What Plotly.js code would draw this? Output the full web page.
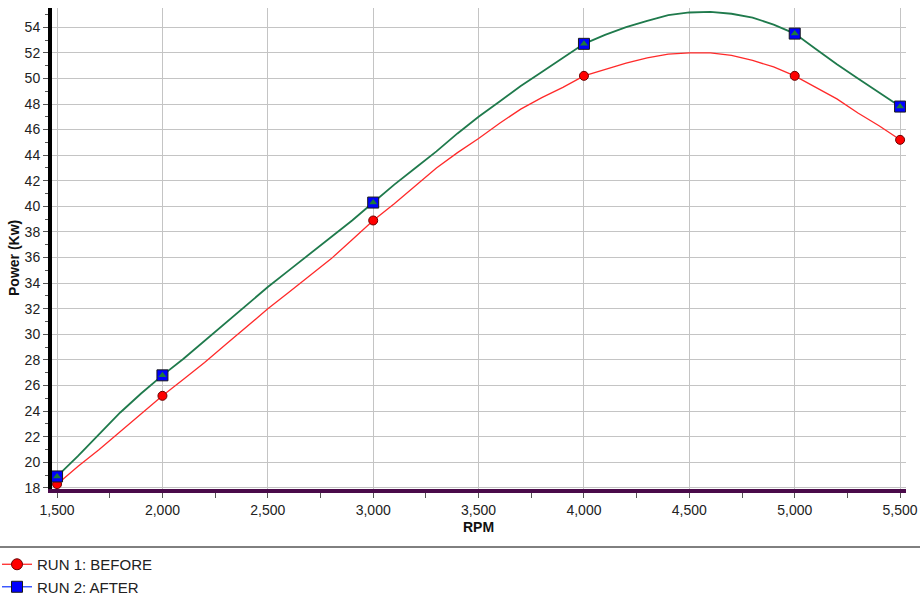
<!DOCTYPE html>
<html>
<head>
<meta charset="utf-8">
<script src="https://cdn.plot.ly/plotly-3.0.1.min.js"></script>
<style>html,body{margin:0;padding:0;background:#fff;}#chart{width:920px;height:596px;}</style>
</head>
<body>
<div id="chart"></div>
<script>
// Dense curve samples (RPM every 100)
const rpm = [1500,1600,1700,1800,1900,2000,2100,2200,2300,2400,2500,2600,2700,2800,2900,3000,3100,3200,3300,3400,3500,3600,3700,3800,3900,4000,4100,4200,4300,4400,4500,4600,4700,4800,4900,5000,5100,5200,5300,5400,5500];
const run1Power = [18.3,19.7,21.0,22.4,23.8,25.2,26.5,27.8,29.2,30.6,32.0,33.3,34.6,35.9,37.4,38.9,40.2,41.6,43.0,44.2,45.3,46.5,47.6,48.5,49.3,50.2,50.7,51.2,51.6,51.9,52.0,52.0,51.8,51.4,50.9,50.2,49.3,48.4,47.3,46.3,45.2];
const run2Power = [18.9,20.5,22.2,23.9,25.4,26.8,28.1,29.5,30.9,32.3,33.7,35.0,36.3,37.6,38.9,40.3,41.7,43.0,44.3,45.7,47.0,48.2,49.4,50.5,51.6,52.7,53.4,54.0,54.5,54.95,55.15,55.2,55.05,54.75,54.2,53.5,52.3,51.1,50.0,48.9,47.8];
// Marker points
const markerRpm = [1500,2000,3000,4000,5000,5500];
const run1Markers = [18.3,25.2,38.9,50.2,50.2,45.2];
const run2Markers = [18.9,26.8,40.3,52.7,53.5,47.8];
const seriesNames = ['RUN 1: BEFORE','RUN 2: AFTER'];
const xTitle = 'RPM';
const yTitle = 'Power (Kw)';
const xTicks = [1500,2000,2500,3000,3500,4000,4500,5000,5500];
const xTickText = ['1,500','2,000','2,500','3,000','3,500','4,000','4,500','5,000','5,500'];

const redLine = '#ff2a2a';
const greenLine = '#1f7a4c';

const traces = [
  {x: rpm, y: run1Power, mode: 'lines', line: {color: redLine, width: 1.3}, showlegend: false, hoverinfo: 'skip'},
  {x: rpm, y: run2Power, mode: 'lines', line: {color: greenLine, width: 1.8}, showlegend: false, hoverinfo: 'skip'},
  {x: markerRpm, y: run1Markers, mode: 'markers', showlegend: false,
   marker: {symbol: 'circle', size: 9, color: '#ff0000', line: {color: '#6a0000', width: 1}}},
  {x: markerRpm, y: run2Markers, mode: 'markers', showlegend: false,
   marker: {symbol: 'square', size: 11, color: '#0000ff', line: {color: '#1a1a1a', width: 1}}},
  {x: markerRpm, y: run2Markers, mode: 'markers', showlegend: false,
   marker: {symbol: 'triangle-up', size: 7, color: '#1f7a3a', line: {width: 0}}},
  {x: [null], y: [null], name: seriesNames[0], mode: 'lines+markers', showlegend: true,
   line: {color: redLine, width: 1.3},
   marker: {symbol: 'circle', size: 11, color: '#ff0000', line: {color: '#6a0000', width: 1}}},
  {x: [null], y: [null], name: seriesNames[1], mode: 'lines+markers', showlegend: true,
   line: {color: '#2040ff', width: 1.3},
   marker: {symbol: 'square', size: 11, color: '#0000ff', line: {color: '#1a1a1a', width: 1}}}
];

const layout = {
  width: 920, height: 596,
  margin: {l: 52, r: 14, t: 8, b: 107, autoexpand: false},
  paper_bgcolor: '#ffffff', plot_bgcolor: '#ffffff',
  font: {family: 'Liberation Sans, Arial, sans-serif', size: 13, color: '#222'},
  showlegend: true,
  legend: {xref: 'container', yref: 'container', x: 0, xanchor: 'left', y: 0.0805, yanchor: 'top', orientation: 'v',
    font: {size: 15, color: '#222'}, bgcolor: 'rgba(0,0,0,0)', tracegroupgap: 0, itemwidth: 30, indentation: -3},
  xaxis: {
    range: [1476, 5528], tickvals: xTicks, ticktext: xTickText, automargin: false,
    showgrid: true, gridcolor: '#c4c4c4', gridwidth: 1,
    showline: true, linecolor: '#4a0a4a', linewidth: 4,
    ticks: '', zeroline: false, ticklabelstandoff: 5,
    minor: {dtick: 250, tick0: 1500, ticks: 'outside', ticklen: 5, tickcolor: '#555', showgrid: false},
    tickfont: {size: 14, color: '#222'}
  },
  yaxis: {
    range: [17.92, 55.5], dtick: 2, tick0: 18, automargin: false,
    showgrid: true, gridcolor: '#c4c4c4', gridwidth: 1,
    showline: true, linecolor: '#000', linewidth: 4,
    ticks: 'outside', ticklen: 5, tickcolor: '#555', zeroline: false,
    minor: {dtick: 1, ticks: 'outside', ticklen: 3, tickcolor: '#555', showgrid: false},
    tickfont: {size: 14, color: '#222'}
  },
  annotations: [
    {text: '<b>' + xTitle + '</b>', xref: 'paper', yref: 'paper', x: (478-52)/854, y: (489-527)/481,
     xanchor: 'center', yanchor: 'middle', showarrow: false, font: {size: 14, color: '#111'}},
    {text: '<b>' + yTitle + '</b>', xref: 'paper', yref: 'paper', x: (14-52)/854, y: (489-258)/481,
     xanchor: 'center', yanchor: 'middle', textangle: -90, showarrow: false, font: {size: 14, color: '#111'}}
  ],
  shapes: [
    {type: 'line', xref: 'paper', yref: 'paper', x0: -52/854, x1: 868/854, y0: -0.1206, y1: -0.1206,
     line: {color: '#000', width: 1}}
  ]
};

Plotly.newPlot('chart', traces, layout, {displayModeBar: false, staticPlot: true});
</script>
</body>
</html>
